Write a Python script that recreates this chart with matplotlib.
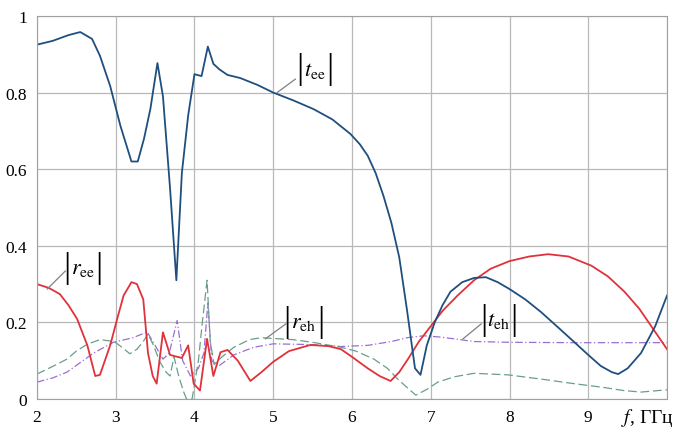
import matplotlib
matplotlib.use('Agg')
import matplotlib.pyplot as plt

# frequencies (GHz) and magnitudes
f_tee = [2.0, 2.2, 2.4, 2.55, 2.7, 2.8, 2.93, 3.06, 3.2, 3.28, 3.36, 3.44, 3.53, 3.6, 3.69,
         3.77, 3.84, 3.92, 4.0, 4.09, 4.17, 4.24, 4.32, 4.42, 4.58, 4.8, 5.0, 5.25, 5.51,
         5.75, 5.98, 6.1, 6.2, 6.3, 6.4, 6.5, 6.6, 6.7, 6.8, 6.87, 6.95, 7.05, 7.15, 7.25,
         7.4, 7.55, 7.7, 7.85, 8.0, 8.2, 8.4, 8.6, 8.82, 9.0, 9.16, 9.3, 9.38, 9.5, 9.67,
         9.85, 10.0]
t_ee = [0.925, 0.935, 0.95, 0.958, 0.94, 0.896, 0.817, 0.713, 0.62, 0.62, 0.68, 0.757,
        0.877, 0.79, 0.55, 0.31, 0.59, 0.74, 0.848, 0.843, 0.92, 0.875, 0.86, 0.846,
        0.838, 0.82, 0.80, 0.78, 0.757, 0.73, 0.692, 0.665, 0.635, 0.59, 0.53, 0.46, 0.37,
        0.23, 0.08, 0.063, 0.14, 0.2, 0.245, 0.28, 0.305, 0.316, 0.318, 0.305, 0.287, 0.26,
        0.227, 0.19, 0.149, 0.115, 0.086, 0.07, 0.065, 0.08, 0.12, 0.19, 0.27]

f_ree = [2.0, 2.15, 2.29, 2.4, 2.51, 2.64, 2.74, 2.8, 2.93, 3.02, 3.1, 3.2, 3.27, 3.35,
         3.41, 3.47, 3.52, 3.6, 3.69, 3.84, 3.92, 3.99, 4.07, 4.16, 4.24, 4.33, 4.42, 4.55,
         4.71, 4.85, 5.0, 5.2, 5.47, 5.7, 5.86, 6.0, 6.2, 6.35, 6.49, 6.6, 6.71, 6.85, 7.0,
         7.15, 7.34, 7.55, 7.76, 8.0, 8.25, 8.49, 8.75, 9.04, 9.25, 9.46, 9.65, 9.8, 10.0]
r_ee = [0.30, 0.29, 0.274, 0.245, 0.209, 0.14, 0.06, 0.063, 0.14, 0.21, 0.27, 0.305, 0.30,
        0.26, 0.12, 0.06, 0.04, 0.174, 0.115, 0.107, 0.14, 0.04, 0.022, 0.157, 0.06, 0.122,
        0.128, 0.1, 0.047, 0.07, 0.097, 0.125, 0.141, 0.138, 0.13, 0.11, 0.08, 0.06, 0.047,
        0.07, 0.104, 0.15, 0.19, 0.23, 0.27, 0.31, 0.34, 0.36, 0.372, 0.378, 0.372, 0.348,
        0.32, 0.28, 0.235, 0.19, 0.13]

f_reh = [2.0, 2.2, 2.38, 2.5, 2.64, 2.8, 2.98, 3.08, 3.18, 3.27, 3.35, 3.41, 3.48, 3.56,
         3.64, 3.69, 3.74, 3.8, 3.86, 3.9, 3.97, 4.05, 4.1, 4.16, 4.2, 4.25, 4.35, 4.5, 4.7,
         4.85, 5.0, 5.25, 5.5, 5.86, 6.05, 6.28, 6.45, 6.58, 6.7, 6.81, 6.95, 7.09, 7.3,
         7.55, 7.98, 8.4, 8.82, 9.2, 9.45, 9.67, 10.0]
r_eh = [0.065, 0.085, 0.104, 0.125, 0.143, 0.155, 0.15, 0.135, 0.118, 0.13, 0.15, 0.17,
        0.14, 0.097, 0.07, 0.06, 0.11, 0.06, 0.02, 0.0, 0.0, 0.1, 0.2, 0.31, 0.15, 0.09,
        0.11, 0.135, 0.155, 0.16, 0.158, 0.155, 0.148, 0.135, 0.125, 0.104, 0.08, 0.052,
        0.03, 0.01, 0.025, 0.044, 0.058, 0.067, 0.063, 0.052, 0.04, 0.03, 0.022, 0.018, 0.024]

f_teh = [2.0, 2.2, 2.38, 2.55, 2.72, 2.97, 3.22, 3.4, 3.5, 3.6, 3.68, 3.78, 3.85, 3.95,
         4.05, 4.12, 4.17, 4.22, 4.3, 4.5, 4.75, 5.0, 5.5, 5.86, 6.2, 6.5, 6.7, 6.91, 7.1,
         7.3, 7.55, 8.0, 8.82, 9.5, 10.0]
t_eh = [0.044, 0.055, 0.07, 0.095, 0.12, 0.148, 0.16, 0.175, 0.14, 0.104, 0.12, 0.205,
        0.1, 0.06, 0.08, 0.12, 0.25, 0.1, 0.085, 0.115, 0.135, 0.144, 0.142, 0.137, 0.14,
        0.15, 0.16, 0.165, 0.162, 0.157, 0.15, 0.148, 0.147, 0.147, 0.147]

x_ticks = [2, 3, 4, 5, 6, 7, 8, 9, 10]
x_labels = ['2', '3', '4', '5', '6', '7', '8', '9', '']
y_ticks = [0, 0.2, 0.4, 0.6, 0.8, 1]
y_labels = ['0', '0.2', '0.4', '0.6', '0.8', '1']

plt.rcParams['font.family'] = ['Liberation Serif', 'DejaVu Serif']
plt.rcParams['mathtext.fontset'] = 'stix'

fig = plt.figure(figsize=(6.97, 4.35), dpi=100)
ax = fig.add_axes([0.053, 0.0805, 0.904, 0.8805])

ax.plot(f_teh, t_eh, color='#9b6fd0', lw=0.9, dashes=(6, 2, 1, 2))
ax.plot(f_reh, r_eh, color='#6a9e8c', lw=0.9, dashes=(7, 3))
ax.plot(f_ree, r_ee, color='#e0323a', lw=1.3)
ax.plot(f_tee, t_ee, color='#1f4f7f', lw=1.3)

ax.set_xlim(2, 10)
ax.set_ylim(0, 1)
ax.set_xticks(x_ticks)
ax.set_xticklabels(x_labels)
ax.set_yticks(y_ticks)
ax.set_yticklabels(y_labels)
ax.grid(True, color='#b8b8b8', lw=0.9)
ax.tick_params(length=0, labelsize=12.5, pad=7)
for sp in ax.spines.values():
    sp.set_color('#a0a0a0')

ax.text(9.42, -0.018, r'$f$, ГГц', fontsize=14, ha='left', va='top',
        transform=ax.transData)

# curve labels with leader lines; the |..| bars are drawn taller, like in the source
lead = dict(color='#808080', lw=0.9)
labels = [
    (r'$t_{\rm ee}$', (5.05, 0.80), (5.28, 0.835), (5.39, 0.86)),
    (r'$r_{\rm ee}$', (2.13, 0.287), (2.36, 0.334), (2.43, 0.34)),
    (r'$r_{\rm eh}$', (4.9, 0.157), (5.16, 0.196), (5.23, 0.20)),
    (r'$t_{\rm eh}$', (7.41, 0.157), (7.64, 0.196), (7.72, 0.205)),
]
cores = []
for txt, p0, p1, pt in labels:
    ax.plot([p0[0], p1[0]], [p0[1], p1[1]], **lead)
    cores.append(ax.text(pt[0], pt[1], txt, fontsize=16, ha='left', va='center'))

fig.canvas.draw()
inv = ax.transData.inverted()
for t in cores:
    bb = t.get_window_extent()
    ymid = (bb.y0 + bb.y1) / 2 + 1
    for xb in (bb.x0 - 4, bb.x1 + 4):
        xd, yd = inv.transform((xb, ymid))
        ax.text(xd, yd, '|', fontsize=26, ha='center', va='center',
                family='Liberation Serif')

fig.savefig('out.png', dpi=100)
